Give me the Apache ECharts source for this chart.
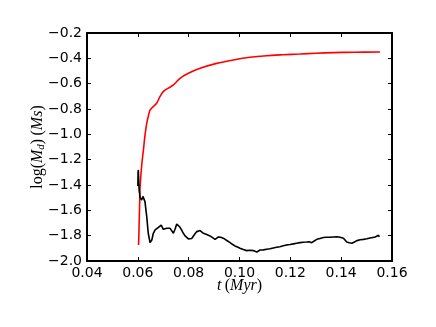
<!DOCTYPE html>
<html>
<head>
<meta charset="utf-8">
<script src="https://cdn.jsdelivr.net/npm/echarts@6/dist/echarts.min.js"></script>
<style>
  html, body { margin: 0; padding: 0; background: #fff; }
  #main { width: 436px; height: 327px; }
</style>
</head>
<body>
<div id="main"></div>
<script>
// disc mass (red) and black curve
var redT = [0.0603, 0.0605, 0.0607, 0.0609, 0.0615, 0.0622, 0.0628, 0.0635, 0.0642, 0.0648, 0.0661, 0.0674, 0.0687, 0.0700, 0.0720, 0.0740, 0.0766, 0.0799, 0.0845, 0.0910, 0.0976, 0.1041, 0.1107, 0.1170, 0.1238, 0.1300, 0.1370, 0.1450, 0.1553];
var redM = [-1.873, -1.72, -1.56, -1.413, -1.25, -1.123, -1.01, -0.913, -0.85, -0.808, -0.78, -0.755, -0.703, -0.663, -0.635, -0.610, -0.558, -0.518, -0.479, -0.440, -0.413, -0.392, -0.379, -0.372, -0.366, -0.360, -0.355, -0.352, -0.350];

var blackT = [0.0600, 0.0601, 0.0602, 0.0605, 0.0609, 0.0615, 0.0620, 0.0628, 0.0635, 0.0641, 0.0648, 0.0655, 0.0661, 0.0668, 0.0674, 0.0681, 0.0687, 0.0692, 0.0700, 0.0707, 0.0714, 0.0720, 0.0727, 0.0734, 0.0740, 0.0747, 0.0753, 0.0760, 0.0766, 0.0772, 0.0779, 0.0785, 0.0792, 0.0799, 0.0805, 0.0812, 0.0818, 0.0825, 0.0832, 0.0838, 0.0845, 0.0851, 0.0858, 0.0871, 0.0884, 0.0894, 0.0904, 0.0910, 0.0917, 0.0926, 0.0936, 0.0950, 0.0963, 0.0972, 0.0982, 0.0992, 0.1002, 0.1015, 0.1028, 0.1041, 0.1054, 0.1061, 0.1068, 0.1075, 0.1081, 0.1094, 0.1107, 0.1120, 0.1133, 0.1146, 0.1159, 0.1172, 0.1186, 0.1199, 0.1212, 0.1225, 0.1238, 0.1251, 0.1264, 0.1274, 0.1284, 0.1294, 0.1304, 0.1317, 0.1330, 0.1343, 0.1356, 0.1370, 0.1383, 0.1396, 0.1409, 0.1416, 0.1422, 0.1432, 0.1442, 0.1452, 0.1462, 0.1475, 0.1488, 0.1501, 0.1514, 0.1524, 0.1534, 0.1541, 0.1547, 0.1550];
var blackM = [-1.408, -1.30, -1.281, -1.44, -1.50, -1.518, -1.49, -1.531, -1.65, -1.781, -1.855, -1.834, -1.781, -1.755, -1.742, -1.735, -1.742, -1.716, -1.750, -1.742, -1.742, -1.745, -1.742, -1.755, -1.781, -1.745, -1.708, -1.718, -1.734, -1.755, -1.781, -1.800, -1.813, -1.825, -1.829, -1.822, -1.810, -1.785, -1.768, -1.762, -1.760, -1.770, -1.781, -1.790, -1.802, -1.815, -1.829, -1.815, -1.810, -1.812, -1.820, -1.838, -1.855, -1.868, -1.881, -1.890, -1.899, -1.910, -1.918, -1.915, -1.918, -1.925, -1.929, -1.920, -1.913, -1.912, -1.907, -1.903, -1.897, -1.892, -1.887, -1.880, -1.873, -1.870, -1.865, -1.860, -1.855, -1.852, -1.850, -1.848, -1.855, -1.842, -1.829, -1.822, -1.815, -1.812, -1.813, -1.810, -1.808, -1.813, -1.820, -1.832, -1.850, -1.856, -1.860, -1.850, -1.839, -1.832, -1.829, -1.825, -1.818, -1.814, -1.810, -1.800, -1.797, -1.810];

var xMin = 0.04, xMax = 0.16, xStep = 0.02;
var yMin = -2.0, yMax = -0.2, yStep = 0.2;

function zip(a, b) {
  var out = [];
  for (var i = 0; i < a.length; i++) out.push([a[i], b[i]]);
  return out;
}
function fmtY(v) {
  var s = Math.abs(v).toFixed(1);
  return (v < -1e-9 ? '\u2212' : '') + s;
}

var myChart = echarts.init(document.getElementById('main'));
var tickStyle = { inside: true, length: 4, lineStyle: { color: '#000', width: 1 } };
var lineStyle = { lineStyle: { color: '#000', width: 2 } };
var labelFont = { color: '#000', fontSize: 14, fontFamily: 'DejaVu Sans' };
var nameRich = {
  i: { fontFamily: 'Liberation Serif', fontStyle: 'italic', fontSize: 16, color: '#000' },
  u: { fontFamily: 'Liberation Serif', fontSize: 16, color: '#000' },
  s: { fontFamily: 'Liberation Serif', fontStyle: 'italic', fontSize: 11, color: '#000', padding: [7, 0, 0, 0] }
};
var option = {
  animation: false,
  backgroundColor: '#fff',
  grid: { left: 87, right: 44, top: 33, bottom: 66 },
  xAxis: [{
    type: 'value', min: xMin, max: xMax, interval: xStep,
    axisLine: lineStyle, axisTick: tickStyle, splitLine: { show: false },
    axisLabel: Object.assign({ margin: 5, formatter: function (v) { return v.toFixed(2); } }, labelFont),
    name: '{i|t} {u|(}{i|Myr}{u|)}',
    nameLocation: 'middle', nameGap: 17, nameMoveOverlap: false,
    nameTextStyle: { rich: nameRich }
  }, {
    type: 'value', position: 'top', min: xMin, max: xMax, interval: xStep,
    axisLine: lineStyle, axisTick: tickStyle, splitLine: { show: false },
    axisLabel: { show: false }
  }],
  yAxis: [{
    type: 'value', min: yMin, max: yMax, interval: yStep,
    axisLine: lineStyle, axisTick: tickStyle, splitLine: { show: false },
    axisLabel: Object.assign({ margin: 5, formatter: fmtY }, labelFont),
    name: '{u|log(}{i|M}{s|d}{u|)} {u|(}{i|Ms}{u|)}',
    nameLocation: 'middle', nameGap: 40, nameRotate: 90, nameMoveOverlap: false,
    nameTextStyle: { rich: nameRich }
  }, {
    type: 'value', position: 'right', min: yMin, max: yMax, interval: yStep,
    axisLine: lineStyle, axisTick: tickStyle, splitLine: { show: false },
    axisLabel: { show: false }
  }],
  series: [{
    type: 'line', data: zip(redT, redM), showSymbol: false, smooth: 0.3,
    lineStyle: { color: '#ff0000', width: 1.6 }, itemStyle: { color: '#ff0000' }
  }, {
    type: 'line', data: zip(blackT, blackM), showSymbol: false,
    lineStyle: { color: '#000', width: 1.6 }, itemStyle: { color: '#000' }
  }]
};
myChart.setOption(option);
</script>
</body>
</html>
